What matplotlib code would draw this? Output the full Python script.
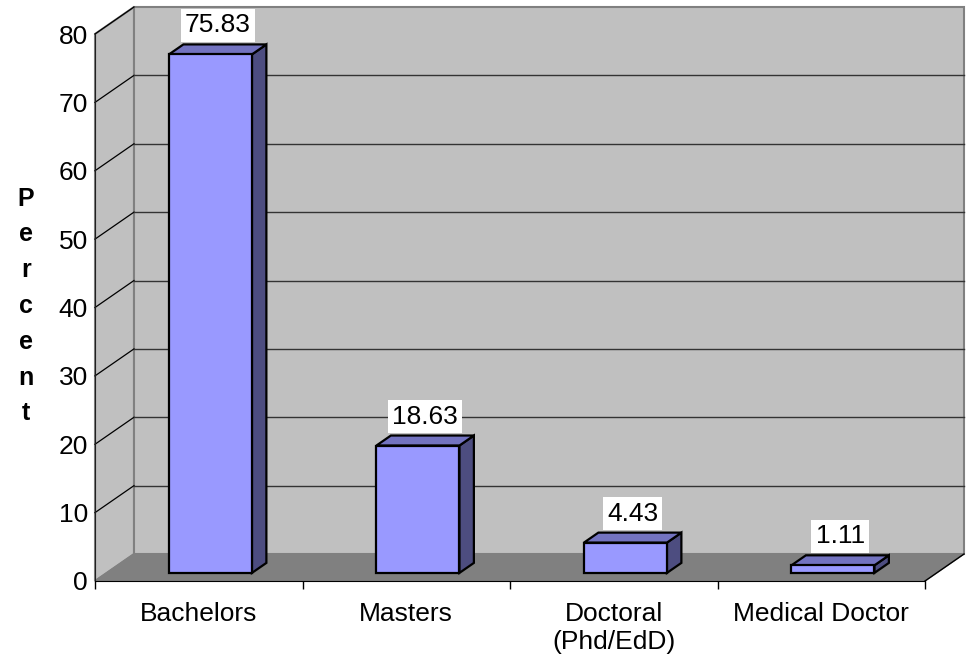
import matplotlib
matplotlib.use('Agg')
import matplotlib.pyplot as plt
from matplotlib.patches import Polygon
from matplotlib.lines import Line2D
from matplotlib.transforms import IdentityTransform

categories = ['Bachelors', 'Masters', 'Doctoral\n(Phd/EdD)', 'Medical Doctor']
values = [75.83, 18.63, 4.43, 1.11]
value_labels = ['75.83', '18.63', '4.43', '1.11']
yticks = [0, 10, 20, 30, 40, 50, 60, 70, 80]
ylabel = 'Percent'

plt.rcParams['font.family'] = ['Liberation Sans', 'DejaVu Sans']

W, H = 967, 661
fig = plt.figure(figsize=(W / 100, H / 100), dpi=100)
ax = fig.add_axes([95 / W, (H - 581) / H, 830 / W, 547 / H])
ax.set_xlim(0, len(categories))
ax.set_ylim(0, 80)
ax.patch.set_visible(False)

DX, DY = 39, 27  # pixel offset for full depth
IDT = IdentityTransform()


def proj(x, y, d):
    px, py = ax.transData.transform((x, y))
    return (px + d * DX, py + d * DY)


def poly(pts, fc, ec, lw=1.0, z=1):
    p = Polygon(pts, closed=True, facecolor=fc, edgecolor=ec, linewidth=lw,
                transform=IDT, clip_on=False, zorder=z, joinstyle='miter')
    ax.add_patch(p)


def line(p0, p1, color, lw=1.0, z=1.5):
    ax.add_line(Line2D([p0[0], p1[0]], [p0[1], p1[1]], color=color, lw=lw,
                       transform=IDT, clip_on=False, zorder=z))


n = len(categories)
ymax = yticks[-1]
# walls
poly([proj(0, 0, 0), proj(0, ymax, 0), proj(0, ymax, 1), proj(0, 0, 1)], '#c0c0c0', '#808080', 1.5)
poly([proj(0, 0, 1), proj(n, 0, 1), proj(n, ymax, 1), proj(0, ymax, 1)], '#c0c0c0', '#808080', 1.5)
# floor
poly([proj(0, 0, 0), proj(n, 0, 0), proj(n, 0, 1), proj(0, 0, 1)], '#808080', '#808080', 1.0, z=1.2)
line(proj(n, 0, 0), proj(n, 0, 1), 'black', 1.0, z=1.3)

# gridlines
for t in yticks[1:]:
    line(proj(0, t, 0), proj(0, t, 1), 'black', 0.9)
    if t != ymax:
        line(proj(0, t, 1), proj(n, t, 1), '#333333', 1.0)

# bars
d0, d1 = 0.30, 0.67
bw = 0.40
for i, v in enumerate(values):
    x0, x1 = i + 0.5 - bw / 2, i + 0.5 + bw / 2
    poly([proj(x1, 0, d0), proj(x1, 0, d1), proj(x1, v, d1), proj(x1, v, d0)], '#4d4d80', 'black', 1.6, z=3)
    poly([proj(x0, v, d0), proj(x1, v, d0), proj(x1, v, d1), proj(x0, v, d1)], '#7373c0', 'black', 1.6, z=3)
    poly([proj(x0, 0, d0), proj(x1, 0, d0), proj(x1, v, d0), proj(x0, v, d0)], '#9999ff', 'black', 1.6, z=3)
    px, py = proj(i + 0.5, v, (d0 + d1) / 2)
    ax.text(px, py + 12, value_labels[i], transform=IDT, ha='center', va='bottom',
            fontsize=19, zorder=4,
            bbox=dict(facecolor='white', edgecolor='none', pad=3))

# axes
ax.set_yticks(yticks)
ax.tick_params(axis='y', length=0, pad=5, labelsize=19)
ax.set_xticks([i + 0.5 for i in range(n)], categories)
ax.set_xticks(range(n + 1), minor=True)
ax.tick_params(axis='x', which='major', length=0, pad=15, labelsize=19)
ax.tick_params(axis='x', which='minor', length=6, width=1, direction='out', color='black')
for s in ['top', 'right']:
    ax.spines[s].set_visible(False)
ax.spines['left'].set_color('#202020')
ax.spines['bottom'].set_color('black')

fig.text(26 / W, 1 - 306 / H, '\n'.join(ylabel), ha='center', va='center',
         fontsize=18, fontweight='bold', linespacing=1.62)

fig.savefig('out.png', dpi=100)
